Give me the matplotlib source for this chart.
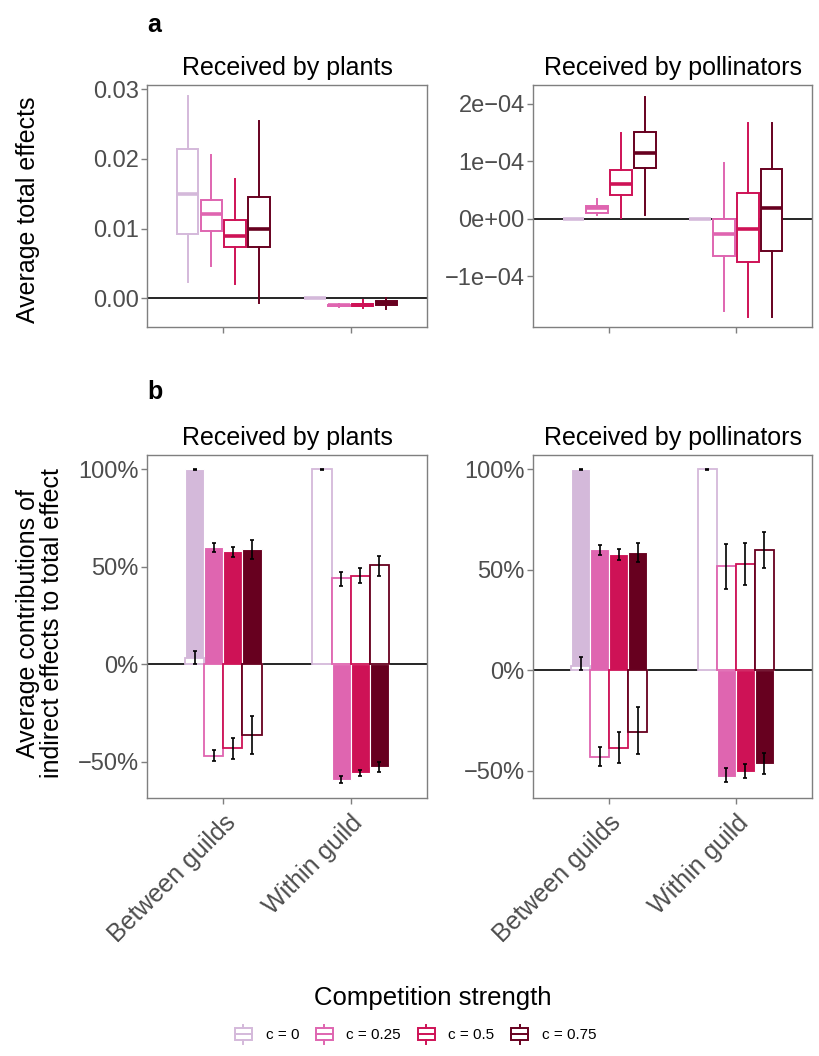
import matplotlib
matplotlib.use("Agg")
import matplotlib.pyplot as plt
import numpy as np
from matplotlib.patches import Rectangle
from matplotlib.lines import Line2D
from matplotlib.legend_handler import HandlerBase

plt.rcParams["font.family"] = ["Liberation Sans", "DejaVu Sans"]

# ---------------- data ----------------
GROUPS = ["Between guilds", "Within guild"]
C_LABELS = ["c = 0", "c = 0.25", "c = 0.5", "c = 0.75"]
COLORS = ["#D4B9DA", "#DF65B0", "#CE1256", "#67001F"]

# box stats: [whislo, q1, median, q3, whishi] for c = 0, 0.25, 0.5, 0.75
PLANTS_BETWEEN = [[0.0024, 0.0093, 0.0150, 0.0214, 0.0290],
                  [0.0047, 0.0097, 0.0121, 0.0141, 0.0206],
                  [0.0020, 0.0073, 0.0090, 0.0113, 0.0171],
                  [-0.0007, 0.0073, 0.0099, 0.0146, 0.0254]]
PLANTS_WITHIN = [[0.0, 0.0, 0.0, 0.0, 0.0],
                 [-0.0012, -0.0011, -0.0010, -0.0009, -0.0008],
                 [-0.0014, -0.0011, -0.0010, -0.0008, -0.0003],
                 [-0.0015, -0.0010, -0.0007, -0.0004, 0.0]]
# pollinators, in units of 1e-4
POLL_BETWEEN = [[0.0, 0.0, 0.0, 0.0, 0.0],
                [0.06, 0.10, 0.18, 0.22, 0.35],
                [0.02, 0.41, 0.60, 0.85, 1.49],
                [0.06, 0.88, 1.15, 1.51, 2.12]]
POLL_WITHIN = [[0.0, 0.0, 0.0, 0.0, 0.0],
               [-1.60, -0.64, -0.27, 0.0, 0.97],
               [-1.71, -0.75, -0.18, 0.44, 1.66],
               [-1.71, -0.56, 0.19, 0.86, 1.66]]

# contributions (%), rows = groups, cols = c values
PL_FILL_MEAN = [[100, 60.2, 57.9, 59.1], [0, -59.3, -55.6, -52.8]]
PL_FILL_LO = [[99.6, 57.4, 54.9, 54.0], [np.nan, -60.7, -57.1, -55.4]]
PL_FILL_HI = [[100, 62.2, 60.0, 63.7], [np.nan, -57.1, -54.2, -49.9]]
PL_OPEN_MEAN = [[3.0, -46.9, -43.1, -36.3], [100, 44.1, 45.4, 50.8]]
PL_OPEN_LO = [[0.0, -49.6, -48.6, -46.0], [99.6, 40.3, 41.5, 45.4]]
PL_OPEN_HI = [[7.0, -44.0, -38.0, -26.4], [100, 47.2, 49.4, 55.7]]

PO_FILL_MEAN = [[100, 60.2, 57.9, 58.7], [0, -52.9, -50.6, -46.5]]
PO_FILL_LO = [[99.6, 57.4, 54.9, 54.0], [np.nan, -55.7, -53.7, -51.6]]
PO_FILL_HI = [[100, 62.3, 60.3, 63.2], [np.nan, -48.8, -46.6, -41.0]]
PO_OPEN_MEAN = [[2.3, -43.0, -38.5, -30.5], [100, 51.9, 52.7, 59.8]]
PO_OPEN_LO = [[0.0, -47.5, -46.3, -41.8], [99.6, 40.6, 42.4, 51.0]]
PO_OPEN_HI = [[6.5, -38.3, -30.5, -18.4], [100, 62.8, 63.2, 68.7]]

# ---------------- style ----------------
TICK_COL = "#4D4D4D"
BORDER_COL = "#7F7F7F"
TICK_FS = 17
TITLE_FS = 18

W, H = 819, 1056
fig = plt.figure(figsize=(W / 100, H / 100), dpi=100)


def px_axes(x0, y0, x1, y1):
    return fig.add_axes([x0 / W, 1 - y1 / H, (x1 - x0) / W, (y1 - y0) / H])


def style(ax, title):
    ax.set_xlim(0.4, 2.6)
    ax.set_xticks([1, 2])
    for s in ax.spines.values():
        s.set_color(BORDER_COL)
        s.set_linewidth(1.0)
    ax.tick_params(colors=BORDER_COL, labelcolor=TICK_COL, labelsize=TICK_FS,
                   length=4, width=1, pad=2)
    ax.set_title(title, fontsize=TITLE_FS, pad=7)
    ax.axhline(0, color="black", lw=1.2, zorder=1)


def draw_boxes(ax, between, within, scale=1.0):
    box_off = [-0.28125, -0.09375, 0.09375, 0.28125]
    for gi, grp in enumerate([between, within]):
        for ci, st in enumerate(grp):
            lo, q1, med, q3, hi = [v * scale for v in st]
            stats = [dict(whislo=lo, q1=q1, med=med, q3=q3, whishi=hi, fliers=[])]
            c = COLORS[ci]
            ax.bxp(stats, positions=[gi + 1 + box_off[ci]], widths=0.17,
                   showcaps=False, showfliers=False, patch_artist=True,
                   boxprops=dict(facecolor="white", edgecolor=c, lw=1.4),
                   whiskerprops=dict(color=c, lw=1.4),
                   medianprops=dict(color=c, lw=2.6, solid_capstyle="butt"),
                   manage_ticks=False, zorder=2)


def draw_bars(ax, f_mean, f_lo, f_hi, o_mean, o_lo, o_hi):
    bar_off = [-0.225, -0.075, 0.075, 0.225]
    bw = 0.15
    for gi in range(2):
        x = [gi + 1 + o for o in bar_off]
        ax.bar(x, f_mean[gi], width=bw, color=COLORS, edgecolor="white",
               linewidth=0.8, zorder=2)
        ax.bar(x, o_mean[gi], width=bw, color="white", edgecolor=COLORS,
               linewidth=1.3, zorder=3)
        for mean, lo, hi in [(f_mean, f_lo, f_hi), (o_mean, o_lo, o_hi)]:
            for ci in range(4):
                if np.isnan(lo[gi][ci]):
                    continue
                m = mean[gi][ci]
                ax.errorbar(x[ci], m, yerr=[[m - lo[gi][ci]], [hi[gi][ci] - m]],
                            fmt="none", ecolor="black", elinewidth=1.2,
                            capsize=1.6, capthick=1.2, zorder=4)


# ---------------- panel a ----------------
ax1 = px_axes(147, 85, 427, 327)
style(ax1, "Received by plants")
draw_boxes(ax1, PLANTS_BETWEEN, PLANTS_WITHIN)
ax1.set_ylim(-0.0041, 0.0306)
ax1.set_yticks([0, 0.01, 0.02, 0.03])
ax1.set_yticklabels(["0.00", "0.01", "0.02", "0.03"])
ax1.set_xticklabels([])

ax2 = px_axes(533, 85, 812, 327)
style(ax2, "Received by pollinators")
draw_boxes(ax2, POLL_BETWEEN, POLL_WITHIN, scale=1e-4)
ax2.set_ylim(-1.88e-4, 2.325e-4)
ax2.set_yticks([-1e-4, 0, 1e-4, 2e-4])
ax2.set_yticklabels(["\u22121e\u221204", "0e+00", "1e\u221204", "2e\u221204"])
ax2.set_xticklabels([])

# ---------------- panel b ----------------
ax3 = px_axes(147, 455, 427, 798)
style(ax3, "Received by plants")
draw_bars(ax3, PL_FILL_MEAN, PL_FILL_LO, PL_FILL_HI,
          PL_OPEN_MEAN, PL_OPEN_LO, PL_OPEN_HI)
ax3.set_ylim(-68.6, 107.3)

ax4 = px_axes(533, 455, 812, 798)
style(ax4, "Received by pollinators")
draw_bars(ax4, PO_FILL_MEAN, PO_FILL_LO, PO_FILL_HI,
          PO_OPEN_MEAN, PO_OPEN_LO, PO_OPEN_HI)
ax4.set_ylim(-63.5, 107.1)

for ax in (ax3, ax4):
    ax.set_yticks([-50, 0, 50, 100])
    ax.set_yticklabels(["\u221250%", "0%", "50%", "100%"])
    ax.set_xticklabels(GROUPS, rotation=45, ha="right", va="top",
                       rotation_mode="anchor", fontsize=18)
    ax.tick_params(axis="x", pad=5)

# ---------------- labels ----------------
fig.text(147 / W, 1 - 25 / H, "a", fontsize=18, fontweight="bold", va="center")
fig.text(147 / W, 1 - 392 / H, "b", fontsize=18, fontweight="bold", va="center")
fig.text(28 / W, 1 - 210 / H, "Average total effects", rotation=90,
         fontsize=TITLE_FS, ha="center", va="center")
fig.text(40 / W, 1 - 623 / H,
         "Average contributions of\nindirect effects to total effect",
         rotation=90, fontsize=TITLE_FS, ha="center", va="center",
         linespacing=1.0)

# ---------------- legend ----------------
class BoxHandler(HandlerBase):
    def create_artists(self, legend, orig_handle, xdescent, ydescent,
                       width, height, fontsize, trans):
        c = orig_handle.get_edgecolor()
        cx = width / 2 - xdescent
        bw = width * 0.85
        y0 = -ydescent
        rect = Rectangle((cx - bw / 2, y0 + height * 0.05), bw, height * 0.9,
                         facecolor="white", edgecolor=c, lw=1.4, transform=trans)
        med = Line2D([cx - bw / 2, cx + bw / 2], [y0 + height / 2] * 2,
                     color=c, lw=1.4, transform=trans)
        wt = Line2D([cx, cx], [y0 + height * 0.95, y0 + height * 1.25],
                    color=c, lw=1.4, transform=trans)
        wb = Line2D([cx, cx], [y0 - height * 0.25, y0 + height * 0.05],
                    color=c, lw=1.4, transform=trans)
        return [rect, med, wt, wb]


handles = [Rectangle((0, 0), 1, 1, facecolor="white", edgecolor=c) for c in COLORS]
fig.legend(handles, C_LABELS, handler_map={Rectangle: BoxHandler()},
           loc="center", bbox_to_anchor=(415 / W, 1 - 1035 / H), ncol=4,
           frameon=False, fontsize=11, handlelength=1.3, handleheight=0.9,
           columnspacing=1.0, handletextpad=0.8)
fig.text(433 / W, 1 - 998 / H, "Competition strength", fontsize=18.5,
         ha="center", va="center")

fig.savefig("out.png", dpi=100)
